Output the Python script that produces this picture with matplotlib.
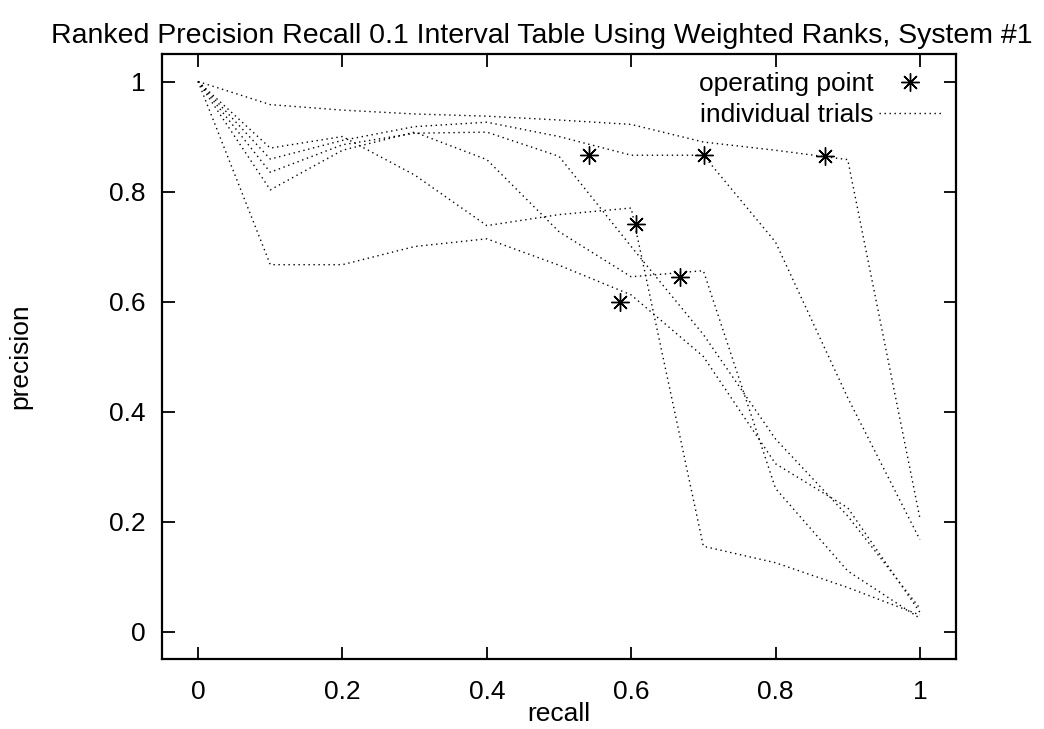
import matplotlib
matplotlib.use('Agg')
import matplotlib.pyplot as plt

# recall levels (0.1 intervals)
recall_levels = [0.0, 0.1, 0.2, 0.3, 0.4, 0.5, 0.6, 0.7, 0.8, 0.9, 1.0]

# precision of each trial
trial_1 = [1.0, 0.958, 0.948, 0.941, 0.937, 0.930, 0.922, 0.890, 0.875, 0.858, 0.206]
trial_2 = [1.0, 0.859, 0.893, 0.918, 0.926, 0.900, 0.866, 0.866, 0.708, 0.425, 0.167]
trial_3 = [1.0, 0.835, 0.885, 0.906, 0.908, 0.864, 0.700, 0.540, 0.350, 0.210, 0.042]
trial_4 = [1.0, 0.879, 0.900, 0.830, 0.738, 0.758, 0.770, 0.155, 0.125, 0.080, 0.030]
trial_5 = [1.0, 0.803, 0.875, 0.908, 0.858, 0.727, 0.645, 0.656, 0.260, 0.110, 0.024]
trial_6 = [1.0, 0.667, 0.667, 0.700, 0.714, 0.666, 0.612, 0.500, 0.305, 0.225, 0.035]
trials = [trial_1, trial_2, trial_3, trial_4, trial_5, trial_6]

# operating points
op_recall = [0.541, 0.606, 0.584, 0.667, 0.701, 0.869]
op_precision = [0.867, 0.741, 0.600, 0.644, 0.866, 0.864]

plt.rcParams['font.family'] = ['Liberation Sans', 'DejaVu Sans']

fig = plt.figure(figsize=(10.44, 7.29), dpi=100)
ax = fig.add_axes([0.1552, 0.0960, 0.7605, 0.8299])

ax.plot(op_recall, op_precision, linestyle='none', marker=(8, 2, 0),
        markersize=13, markeredgewidth=1.0, color='black', label='operating point')

for i, t in enumerate(trials):
    ax.plot(recall_levels, t, color='black', linewidth=1.0, linestyle=(0, (1, 2.6)),
            label='individual trials' if i == 0 else None)

ax.set_xlim(-0.05, 1.05)
ax.set_ylim(-0.05, 1.05)
ticks = [0, 0.2, 0.4, 0.6, 0.8, 1.0]
labels = ['0', '0.2', '0.4', '0.6', '0.8', '1']
ax.set_xticks(ticks)
ax.set_xticklabels(labels)
ax.set_yticks(ticks)
ax.set_yticklabels(labels)

for s in ax.spines.values():
    s.set_linewidth(1.6)
ax.tick_params(direction='in', length=9, width=1.3, top=True, right=True,
               labelsize=19)
ax.tick_params(axis='x', pad=15)
ax.tick_params(axis='y', pad=12)

ax.set_xlabel('recall', fontsize=19, labelpad=-1)
ax.set_ylabel('precision', fontsize=19, labelpad=55)
ax.set_title('Ranked Precision Recall 0.1 Interval Table Using Weighted Ranks, System #1',
             fontsize=20.5, pad=8, x=0.4786)

ax.legend(loc='upper right', bbox_to_anchor=(1.0, 0.9934), frameon=False, fontsize=19,
          markerfirst=False, handlelength=2.4, handletextpad=0.2, labelspacing=0.28,
          borderaxespad=0.13)

fig.savefig('out.png', dpi=100)
